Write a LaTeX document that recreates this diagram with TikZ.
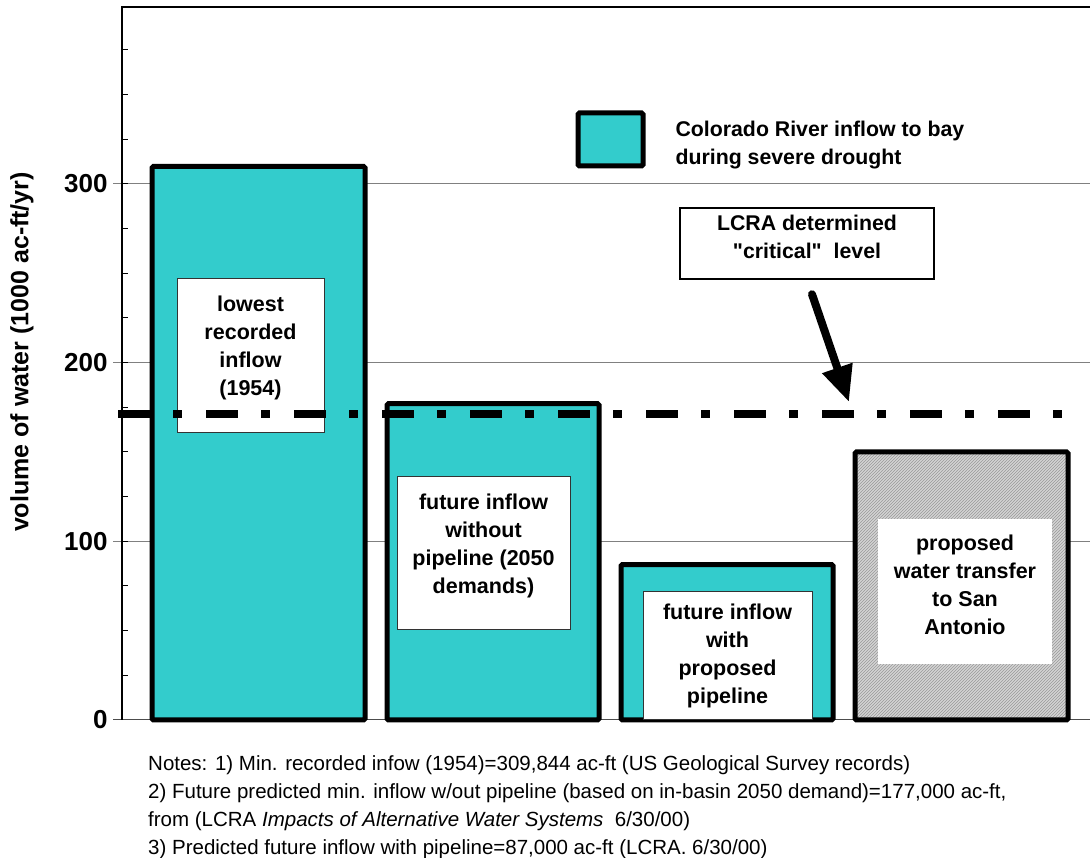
\documentclass[tikz,border=0pt]{standalone}
\usepackage{fontspec}
\setmainfont{Liberation Sans}[Ligatures=TeXOff]
\usetikzlibrary{arrows.meta,patterns}
\definecolor{inflow}{RGB}{51,204,204}
\definecolor{transfergray}{RGB}{212,212,212}
\newcommand{\padbelow}[1]{\rule[-#1]{0pt}{1pt}}

\begin{document}
\begin{tikzpicture}[x=1pt,y=1pt,
  bar/.style={draw=black,line width=5pt,rounded corners=1.5pt},
  barlabel/.style={draw=black!80,line width=1pt,fill=white,align=center,inner sep=0pt,
    font=\bfseries\fontsize{21.5}{28}\selectfont}]
  \useasboundingbox (0,0) rectangle (1090,858);
  % plot area, y in 1000 ac-ft/yr
  \begin{scope}[shift={(122,138)},y=1.787pt]
    \foreach \v in {100,200,300} \draw[gray,line width=1pt] (-9,\v) -- (968,\v);
    \foreach \v in {25,50,...,375} \draw[line width=1pt] (0,\v) -- (6,\v);
    \draw[gray!60!black,line width=1pt] (-9,0) -- (968,0);
    \draw[line width=2pt] (0,0) -- (0,399) -- (968,399);
    \foreach \v in {0,100,200,300}
      \node[anchor=east,font=\bfseries\fontsize{26}{30}\selectfont] (tick\v) at (-11,\v) {\v};
    % bars
    \draw[bar,fill=inflow] (30,0) rectangle (243,309.8);
    \draw[bar,fill=inflow] (265,0) rectangle (477,177);
    \draw[bar,fill=inflow] (499,0) rectangle (711,87);
    \fill[transfergray] (733,0) rectangle (946,150);
    \fill[pattern=north east lines,pattern color=black!40] (733,0) rectangle (946,150);
    \draw[bar] (733,0) rectangle (946,150);
  \end{scope}
  \node[barlabel,minimum width=147pt,minimum height=154pt] (lowest) at (250.5,502)
    {lowest\\recorded\\inflow\\(1954)\padbelow{20pt}};
  \node[barlabel,minimum width=173pt,minimum height=153pt] (without) at (483.5,304.5)
    {future inflow\\without\\pipeline (2050\\demands)\padbelow{20pt}};
  \node[barlabel,minimum width=169pt,minimum height=128pt] (with) at (727.5,202)
    {future inflow\\with\\proposed\\pipeline};
  \node[barlabel,draw=none,minimum width=174pt,minimum height=145pt] (transfer) at (965,266.5)
    {proposed\\water transfer\\to San\\Antonio\padbelow{14pt}};
  % critical level
  \begin{scope}[shift={(122,138)},y=1.787pt]
    \draw[line width=8pt,dash pattern=on 32pt off 23pt on 9pt off 24pt] (-4,171.5) -- (940,171.5);
  \end{scope}
  % legend
  \draw[bar,fill=inflow] (578,692) rectangle (643,745);
  \node[anchor=west,align=left,font=\bfseries\fontsize{21.3}{28}\selectfont] (legend) at (672,713)
    {Colorado River inflow to bay\\during severe drought};
  \node[draw,line width=2.5pt,minimum width=254pt,minimum height=71pt,align=center,inner sep=0pt,
    font=\bfseries\fontsize{21.3}{28}\selectfont] (lcra) at (807,614.5)
    {LCRA determined\\"critical"\ \ level\padbelow{14pt}};
  \coordinate (critpt) at (849,456);
  \draw[line width=8pt,line cap=round,-{Triangle[length=36pt,width=30pt]}]
    ([shift={(5,-14)}]lcra.south) -- (critpt);
  \node[rotate=90,font=\bfseries\fontsize{25}{29}\selectfont] (ylabel) at (22,506)
    {volume of water (1000 ac-ft/yr)};
  \node[anchor=north west,align=left,inner sep=0pt,font=\fontsize{20.5}{28}\selectfont] (notes) at (148,103)
    {Notes: 1) Min. recorded infow (1954)=309,844 ac-ft (US Geological Survey records)\\
     2) Future predicted min. inflow w/out pipeline (based on in-basin 2050 demand)=177,000 ac-ft,\\
     from (LCRA \textit{Impacts of Alternative Water Systems}\ \ 6/30/00)\\
     3) Predicted future inflow with pipeline=87,000 ac-ft (LCRA. 6/30/00)};
\end{tikzpicture}
\end{document}
